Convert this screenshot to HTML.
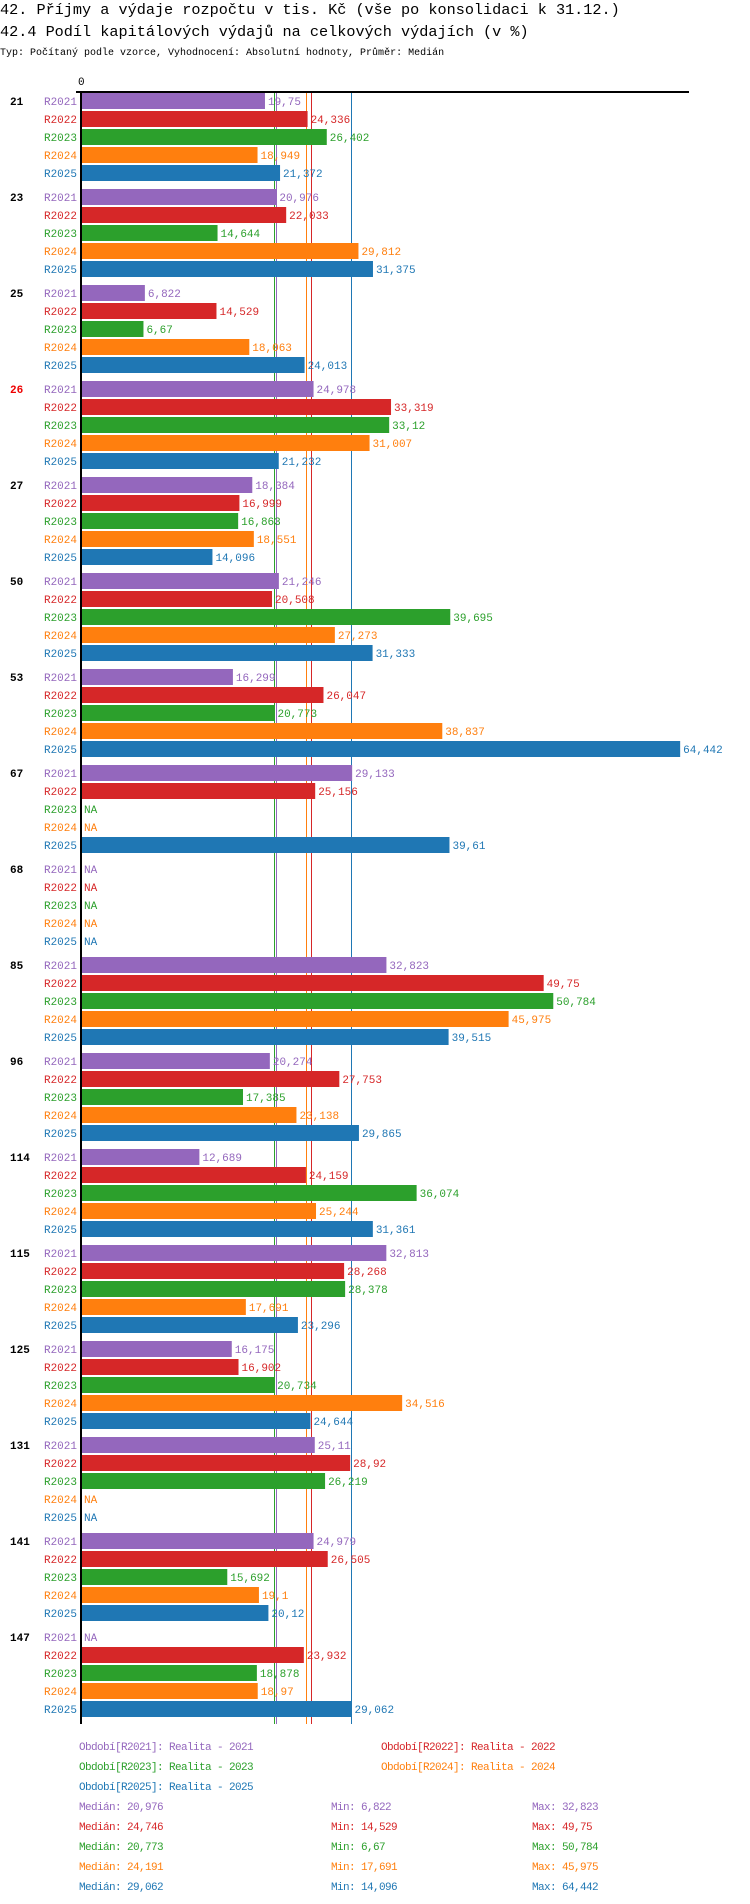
<!DOCTYPE html>
<html><head><meta charset="utf-8"><style>
body{margin:0;background:#fff;width:750px;height:1904px;overflow:hidden}
svg{display:block}
text{font-family:"Liberation Mono",monospace}
</style></head><body>
<svg id="c" width="750" height="1904" xmlns="http://www.w3.org/2000/svg">
<text x="0" y="14" font-size="15.2" fill="#000">42. Příjmy a výdaje rozpočtu v tis. Kč (vše po konsolidaci k 31.12.)</text>
<text x="0" y="36" font-size="15.2" fill="#000">42.4 Podíl kapitálových výdajů na celkových výdajích (v %)</text>
<text x="0" y="55" font-size="10" fill="#000">Typ: Počítaný podle vzorce, Vyhodnocení: Absolutní hodnoty, Průměr: Medián</text>
<text x="78" y="85" font-size="11" fill="#000">0</text>
<g id="lines"></g><g id="bars"></g>
</svg>
<script>
const groups=["21","23","25","26","27","50","53","67","68","85","96","114","115","125","131","141","147"];
const series=["R2021","R2022","R2023","R2024","R2025"];
const colors=["#9467bd","#d62728","#2ca02c","#ff7f0e","#1f77b4"];
const v2021=[19.75,20.976,6.822,24.978,18.384,21.246,16.299,29.133,null,32.823,20.274,12.689,32.813,16.175,25.11,24.979,null];
const v2022=[24.336,22.033,14.529,33.319,16.999,20.508,26.047,25.156,null,49.75,27.753,24.159,28.268,16.902,28.92,26.505,23.932];
const v2023=[26.402,14.644,6.67,33.12,16.863,39.695,20.773,null,null,50.784,17.385,36.074,28.378,20.734,26.219,15.692,18.878];
const v2024=[18.949,29.812,18.063,31.007,18.551,27.273,38.837,null,null,45.975,23.138,25.244,17.691,34.516,null,19.1,18.97];
const v2025=[21.372,31.375,24.013,21.232,14.096,31.333,64.442,39.61,null,39.515,29.865,31.361,23.296,24.644,null,20.12,29.062];
const medians=[20.976,24.746,20.773,24.191,29.062];
const mins=[6.822,14.529,6.67,17.691,14.096];
const maxs=[32.823,49.75,50.784,45.975,64.442];
const highlighted=["26"];
const vals=[v2021,v2022,v2023,v2024,v2025];
const NS="http://www.w3.org/2000/svg";
const svg=document.getElementById('c');
const X0=81.5,SC=9.29,Y0=93,GP=96,RP=18;
const xs=v=>X0+v*SC;
const rowY=(g,s)=>Y0+g*GP+s*RP;
const fmt=v=>String(v).replace('.',',');
function mk(t,a,p){const e=document.createElementNS(NS,t);for(const k in a)e.setAttribute(k,a[k]);(p||svg).appendChild(e);return e;}
const lg=document.getElementById('lines'),bg=document.getElementById('bars');
medians.forEach((m,i)=>{
 const x=Math.round(xs(m))+0.5;
 const l=mk('line',{x1:x,x2:x,y1:92,y2:1724,stroke:colors[i],'stroke-width':1},lg);
 
 
});
groups.forEach((g,gi)=>{
 const gl=mk('text',{x:10,y:rowY(gi,0)+12,'font-size':11,'font-weight':'bold',fill:highlighted.includes(g)?'#e00':'#000'},bg);
 gl.textContent=g;
 
 
 series.forEach((s,si)=>{
  const y=rowY(gi,si),v=vals[si][gi];
  const sl=mk('text',{x:77,y:y+12,'font-size':11,'text-anchor':'end',fill:colors[si]},bg);
  sl.textContent=s;
  
  
  let lx=84;
  if(v!=null){
   const r=mk('rect',{x:X0,y:y,width:xs(v)-X0,height:16,fill:colors[si]},bg);
   
   
   lx=xs(v)+3;
  }
  const vl=mk('text',{x:lx,y:y+12,'font-size':11,fill:colors[si]},bg);
  vl.textContent=v==null?'NA':fmt(v);
  
  
 });
});
const ax=mk('line',{x1:76,x2:689,y1:92,y2:92,stroke:'#000','stroke-width':2});


const ay=mk('line',{x1:81,x2:81,y1:91,y2:1724,stroke:'#000','stroke-width':2});


const legPos=[[79,1750],[381,1750],[79,1770],[381,1770],[79,1790]];
series.forEach((s,i)=>{
 const t=mk('text',{x:legPos[i][0],y:legPos[i][1],'font-size':11,fill:colors[i],'letter-spacing':'-0.6'});
 t.textContent='Období['+s+']: Realita - '+s.slice(1);
 
 
 const y=1810+i*20;
 const a=mk('text',{x:79,y:y,'font-size':11,fill:colors[i],'letter-spacing':'-0.6'});
 a.textContent='Medián: '+fmt(medians[i]);
 
 
 const b=mk('text',{x:331,y:y,'font-size':11,fill:colors[i],'letter-spacing':'-0.6'});
 b.textContent='Min: '+fmt(mins[i]);
 
 
 const c=mk('text',{x:532,y:y,'font-size':11,fill:colors[i],'letter-spacing':'-0.6'});
 c.textContent='Max: '+fmt(maxs[i]);
 
 
});
</script>
</body></html>
